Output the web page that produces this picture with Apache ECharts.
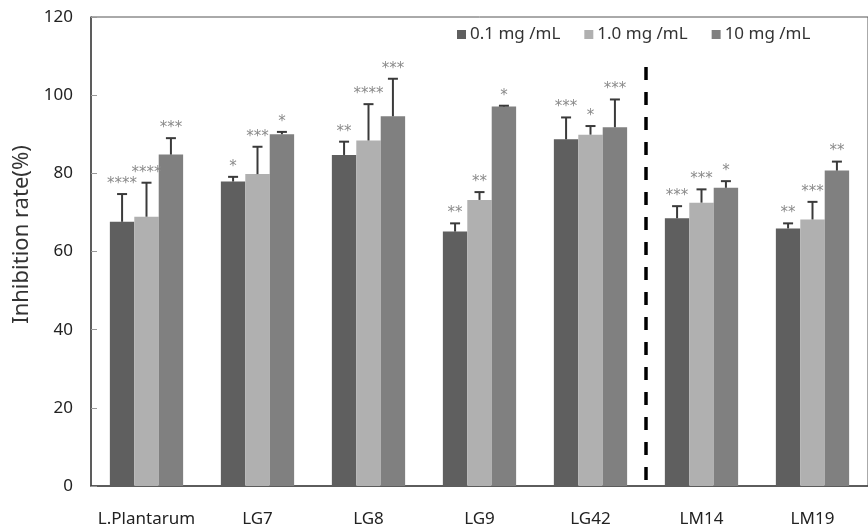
<!DOCTYPE html>
<html>
<head>
<meta charset="utf-8">
<script src="https://cdn.jsdelivr.net/npm/echarts@6/dist/echarts.min.js"></script>
<style>
	html, body { margin: 0; padding: 0; background: #fff; }
	#chart { width: 868px; height: 532px; }
</style>
</head>
<body>
<div id="chart"></div>
<script>
// 菌株
var strains = ['L.Plantarum', 'LG7', 'LG8', 'LG9', 'LG42', 'LM14', 'LM19']
var doses = ['0.1 mg /mL', '1.0 mg /mL', '10 mg /mL']

// 抑制率 (%)
var low = [67.6, 77.9, 84.7, 65.1, 88.7, 68.5, 65.9]
var mid = [68.9, 79.8, 88.4, 73.2, 89.9, 72.5, 68.2]
var high = [84.8, 90.0, 94.6, 97.1, 91.8, 76.3, 80.7]

// 误差 (SD)
var lowErr = [7.1, 1.2, 3.4, 2.1, 5.6, 3.1, 1.3]
var midErr = [8.7, 7.0, 9.3, 2.0, 2.2, 3.4, 4.5]
var highErr = [4.2, 0.6, 9.6, 0.2, 7.1, 1.7, 2.3]

// 显著性
var lowSig = ['****', '*', '**', '**', '***', '***', '**']
var midSig = ['****', '***', '****', '**', '*', '***', '***']
var highSig = ['***', '*', '***', '*', '***', '*', '**']

// 分隔线 (虚线)
var dividerAt = 5
var dividerTop = 107.2

var yTicks = [0, 20, 40, 60, 80, 100, 120]

var colors = ['#5f5f5f', '#b0b0b0', '#808080']
var font = 'Noto Sans'

function errSeries(idx, vals, errs, sig) {
	var rows = vals.map(function (v, i) { return [i, v, errs[i], sig[i]] })
	return {
		type: 'custom',
		silent: true,
		z: 5,
		data: rows,
		encode: { x: 0, y: 1 },
		renderItem: function (params, api) {
			var i = api.value(0)
			var v = api.value(1)
			var e = api.value(2)
			var band = api.size([1, 0])[0]
			var bw = band * 0.66 / 3
			var base = api.coord([i, v])
			var x = base[0] + (idx - 1) * bw
			var top = api.coord([i, v + e])[1]
			var st = { stroke: '#3a3a3a', lineWidth: 2 }
			return {
				type: 'group',
				children: [{
					type: 'line',
					shape: { x1: x, y1: base[1], x2: x, y2: top },
					style: st
				}, {
					type: 'line',
					shape: { x1: x - 5, y1: top, x2: x + 5, y2: top },
					style: st
				}, {
					type: 'text',
					style: {
						text: rows[params.dataIndex][3],
						x: x,
						y: top - 10,
						align: 'center',
						verticalAlign: 'middle',
						fill: '#8a8a8a',
						font: '15px "DejaVu Sans"'
					}
				}]
			}
		}
	}
}

var chart = echarts.init(document.getElementById('chart'))

var option = {
	animation: false,
	textStyle: { fontFamily: font },
	grid: {
		left: 91, top: 17, bottom: 46, width: 784,
		show: true, borderColor: '#555', borderWidth: 1
	},
	legend: {
		data: doses,
		left: 452,
		top: 21,
		itemWidth: 9,
		itemHeight: 9,
		itemGap: 24,
		icon: 'rect',
		textStyle: { fontFamily: font, fontSize: 17, color: '#333', padding: [0, 0, 0, -1] }
	},
	xAxis: [{
		type: 'category',
		data: strains,
		axisLine: { lineStyle: { color: '#444', width: 1.5 } },
		axisTick: { inside: true, length: 5, lineStyle: { color: '#999' } },
		axisLabel: { interval: 0, fontSize: 17, color: '#222', margin: 25 }
	}, {
		type: 'value',
		min: 0,
		max: strains.length,
		show: false
	}],
	yAxis: {
		type: 'value',
		min: yTicks[0],
		max: yTicks[yTicks.length - 1],
		interval: 20,
		name: 'Inhibition rate(%)',
		nameLocation: 'middle',
		nameGap: 54,
		nameTextStyle: { fontSize: 22, color: '#333', padding: [0, 0, 0, 34] },
		axisLine: { show: true, lineStyle: { color: '#444', width: 1.5 } },
		axisTick: { show: true, inside: true, length: 6, lineStyle: { color: '#999' } },
		axisLabel: { fontSize: 17, color: '#222', margin: 18 },
		splitLine: { show: false }
	},
	series: [{
		name: doses[0], type: 'bar', data: low,
		itemStyle: { color: colors[0] },
		barGap: 0, barCategoryGap: '34%'
	}, {
		name: doses[1], type: 'bar', data: mid,
		itemStyle: { color: colors[1] }
	}, {
		name: doses[2], type: 'bar', data: high,
		itemStyle: { color: colors[2] }
	},
	errSeries(0, low, lowErr, lowSig),
	errSeries(1, mid, midErr, midSig),
	errSeries(2, high, highErr, highSig),
	{
		type: 'line',
		xAxisIndex: 1,
		data: [[dividerAt, dividerTop], [dividerAt, 0]],
		symbol: 'none',
		silent: true,
		lineStyle: { color: '#000', width: 3.5, type: [13, 12] },
		z: 6
	}]
}

chart.setOption(option)
</script>
</body>
</html>
